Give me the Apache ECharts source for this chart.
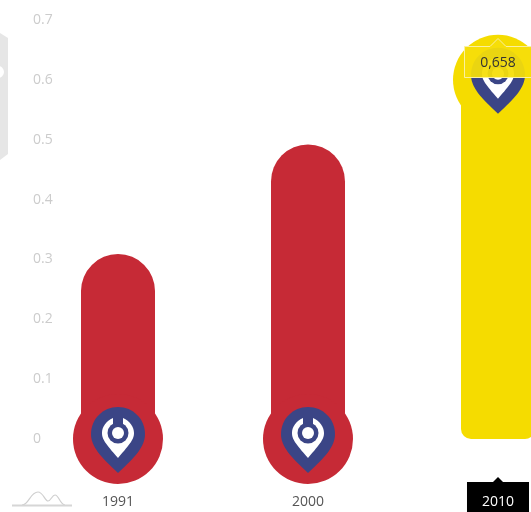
<!DOCTYPE html>
<html lang="en">
<head>
  <meta charset="UTF-8">
  <title>Chart</title>
  <style>html,body{margin:0;background:#fff}</style>
</head>
<body>
  <div id="main" style="width: 531px;height:512px;"></div>

  <script src="https://cdn.jsdelivr.net/npm/echarts@6/dist/echarts.min.js"></script>
  <script>
    const years = ['1991', '2000', '2010'];
    const barValues = [0.309, 0.492, 0.658];
    const bubbleLevels = [0, 0, 0.6];
    const barColors = ['#c62a36', '#c62a36', '#f5dc00'];
    const activeYear = '2010';
    const tooltipText = '0,658';

    const font = '"Open Sans", sans-serif';
    const navy = '#3b4586';
    const pinPath = 'path://M27 0C12 0 0 12 0 27C0 40 10 50 27 66C44 50 54 40 54 27C54 12 42 0 27 0Z';
    const innerPath = 'path://M11 0C4 3 0 9 0 15C0 21 3 25 16 40C29 25 32 21 32 15C32 9 28 3 21 0L21 10L11 10Z';

    // one marker layer per colour, all sitting on the bubble levels
    function layer(symbol, size, color, offsetY) {
      return {
        type: 'scatter',
        data: bubbleLevels.map((v, i) => ({
          value: v,
          itemStyle: { color: color || barColors[i], opacity: 1 }
        })),
        symbol: symbol,
        symbolSize: size,
        symbolOffset: [0, offsetY],
        clip: false,
        silent: true
      };
    }

    const iconStroke = { fill: 'none', stroke: '#cfcfcf', lineWidth: 1.2 };

    const myChart = echarts.init(document.getElementById('main'));

    const options = {
      animation: false,
      textStyle: { fontFamily: font },
      grid: { left: 23, top: 20, width: 570, height: 419, outerBoundsMode: 'none' },
      xAxis: {
        type: 'category',
        data: years,
        axisLine: { show: false },
        axisTick: { show: false },
        axisLabel: {
          margin: 56,
          fontSize: 14,
          fontFamily: font,
          formatter: function (v) {
            return (v === activeYear ? '{active|' : '{plain|') + v + '}';
          },
          rich: {
            plain: {
              color: '#555',
              fontSize: 14,
              lineHeight: 14,
              fontFamily: font,
              padding: [13, 15, 13, 15]
            },
            active: {
              backgroundColor: '#000',
              color: '#fff',
              fontSize: 14,
              lineHeight: 14,
              fontFamily: font,
              padding: [13, 15, 13, 15]
            }
          }
        }
      },
      yAxis: {
        type: 'value',
        min: 0,
        max: 0.7,
        interval: 0.1,
        splitLine: { show: false },
        axisLine: { show: false },
        axisTick: { show: false },
        axisLabel: {
          inside: true,
          margin: 10,
          fontSize: 14,
          fontFamily: font,
          color: '#ccc',
          padding: [8, 0, 0, 0]
        }
      },
      series: [
        {
          type: 'bar',
          barWidth: 74,
          silent: true,
          data: barValues.map((v, i) => ({
            value: v,
            itemStyle: {
              color: barColors[i],
              borderRadius: years[i] === activeYear ? [37, 37, 10, 10] : [37, 37, 0, 0]
            }
          }))
        },
        layer('circle', 90, null, 0),
        layer(pinPath, [54, 66], navy, 1),
        layer(innerPath, [32, 40], '#fff', -1),
        layer('circle', 21, navy, -6),
        layer('circle', 12, '#fff', -6)
      ],
      graphic: [
        // grey shape cut off by the left edge
        {
          type: 'polygon',
          shape: { points: [[0, 33], [8, 38], [8, 154], [0, 160]] },
          style: { fill: '#e6e6e6' }
        },
        { type: 'circle', shape: { cx: -2, cy: 72, r: 6 }, style: { fill: '#fff' } },
        // small range icon bottom left
        { type: 'bezierCurve', shape: { x1: 22, y1: 505, cpx1: 29, cpy1: 505, cpx2: 30, cpy2: 492, x2: 38, y2: 492 }, style: iconStroke },
        { type: 'bezierCurve', shape: { x1: 38, y1: 492, cpx1: 43, cpy1: 492, cpx2: 45, cpy2: 501, x2: 48, y2: 501 }, style: iconStroke },
        { type: 'bezierCurve', shape: { x1: 48, y1: 501, cpx1: 51, cpy1: 501, cpx2: 52, cpy2: 495, x2: 55, y2: 495 }, style: iconStroke },
        { type: 'bezierCurve', shape: { x1: 55, y1: 495, cpx1: 59, cpy1: 495, cpx2: 60, cpy2: 505, x2: 65, y2: 505 }, style: iconStroke },
        {
          type: 'line',
          shape: { x1: 12, y1: 505.5, x2: 72, y2: 505.5 },
          style: { stroke: '#d6d6d6', lineWidth: 2 }
        },
        // arrow of the active year label
        { type: 'polygon', shape: { points: [[492, 483], [498, 477], [504, 483]] }, style: { fill: '#000' }, z: 10 },
        // hover tooltip on the last bar
        {
          type: 'polygon',
          shape: {
            points: [[464.5, 46.5], [490, 46.5], [498, 38.5], [506, 46.5], [536, 46.5], [536, 77.5], [464.5, 77.5]]
          },
          style: { fill: 'rgba(245,222,10,.94)', stroke: '#faf0a0', lineWidth: 1 },
          z: 10
        },
        {
          type: 'text',
          x: 498,
          y: 63,
          style: { text: tooltipText, font: '14px ' + font, fill: '#333', align: 'center', verticalAlign: 'middle' },
          z: 11
        }
      ]
    };

    myChart.setOption(options);
  </script>
</body>
</html>
